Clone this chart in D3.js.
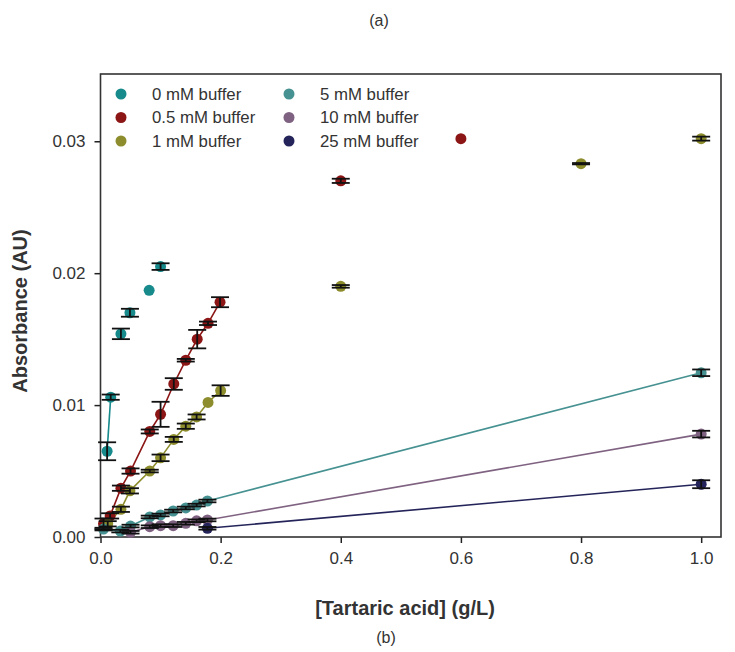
<!DOCTYPE html>
<html>
<head>
<meta charset="utf-8">
<script src="https://cdn.jsdelivr.net/npm/d3@7/dist/d3.min.js"></script>
<style>
  html, body { margin: 0; padding: 0; background: #fff; }
  svg { display: block; }
  text { font-family: "Liberation Sans", "DejaVu Sans", sans-serif; fill: #333; }
</style>
</head>
<body>
<svg id="chart" width="735" height="652"></svg>
<script>
// Buffer series: tartaric acid concentration (g/L), absorbance (AU), error (AU)
const bufferNames = ["0 mM buffer", "0.5 mM buffer", "1 mM buffer", "5 mM buffer", "10 mM buffer", "25 mM buffer"];
const bufferColors = ["#178a8c", "#8c1616", "#8d8d2e", "#469191", "#7f6281", "#24245a"];

const conc0 = [0.011, 0.017, 0.034, 0.049, 0.081, 0.10];
const abs0  = [0.0065, 0.0106, 0.0154, 0.0170, 0.0187, 0.0205];
const err0  = [0.00068, 0.0002, 0.0004, 0.0003, 0, 0.00025];

const conc05 = [0.005, 0.016, 0.034, 0.050, 0.082, 0.100, 0.122, 0.142, 0.161, 0.179, 0.199, 0.40, 0.60];
const abs05  = [0.0010, 0.0016, 0.0037, 0.0050, 0.0080, 0.0093, 0.0116, 0.0134, 0.0150, 0.0162, 0.0178, 0.0270, 0.0302];
const err05  = [0.0004, 0.0002, 0.0002, 0.0002, 0.00015, 0.00095, 0.00044, 0.0001, 0.0007, 0.00013, 0.00038, 0.00016, 0];

const conc1 = [0.012, 0.034, 0.049, 0.082, 0.100, 0.122, 0.142, 0.160, 0.179, 0.200, 0.40, 0.80, 1.0];
const abs1  = [0.0010, 0.0021, 0.0035, 0.0050, 0.0060, 0.0074, 0.0084, 0.0091, 0.0102, 0.0111, 0.0190, 0.0283, 0.0302];
const err1  = [0.0002, 0.0002, 0.0002, 0.0001, 0.00025, 0.00019, 0.0002, 0.00019, 0, 0.0004, 0.0001, 0.00005, 0.00015];

const conc5 = [0.005, 0.033, 0.050, 0.082, 0.100, 0.121, 0.142, 0.160, 0.178, 1.0];
const abs5  = [0.0006, 0.00045, 0.00083, 0.00152, 0.00167, 0.00197, 0.0022, 0.00242, 0.00273, 0.01245];
const err5  = [0.0001, 0.0001, 0.0001, 0.0001, 0.0001, 0.0001, 0.0001, 0.0001, 0.0001, 0.00025];

const conc10 = [0.050, 0.082, 0.100, 0.121, 0.142, 0.160, 0.178, 1.0];
const abs10  = [0.00036, 0.00078, 0.00086, 0.00086, 0.00104, 0.00123, 0.00129, 0.0078];
const err10  = [0.0001, 0.0001, 0.0001, 0.0001, 0.0001, 0.0001, 0.0001, 0.00025];

const conc25 = [0.178, 1.0];
const abs25  = [0.00066, 0.0040];
const err25  = [0.0001, 0.0003];

// how many leading points of each series are joined by a line
const linkedCounts = [2, 11, 10, 10, 8, 2];

const xTicks = [0.0, 0.2, 0.4, 0.6, 0.8, 1.0];
const yTicks = [0.00, 0.01, 0.02, 0.03];

const seriesConc = [conc0, conc05, conc1, conc5, conc10, conc25];
const seriesAbs = [abs0, abs05, abs1, abs5, abs10, abs25];
const seriesErr = [err0, err05, err1, err5, err10, err25];

const series = bufferNames.map((name, i) => ({
  name,
  color: bufferColors[i],
  linked: linkedCounts[i],
  points: seriesConc[i].map((c, j) => ({ x: c, y: seriesAbs[i][j], e: seriesErr[i][j] }))
}));

const svg = d3.select("#chart");
const plotLeft = 100.5, plotRight = 721, plotTop = 74, plotBottom = 537;

const x = d3.scaleLinear().domain([0, 1.033]).range([plotLeft, plotRight]);
const y = d3.scaleLinear().domain([0, 0.0351]).range([plotBottom, plotTop]);

// axes
const xAxis = svg.append("g").attr("transform", `translate(0,${plotBottom})`)
  .call(d3.axisBottom(x).tickValues(xTicks).tickFormat(d3.format(".1f")).tickSize(6).tickPadding(9));
const yAxis = svg.append("g").attr("transform", `translate(${plotLeft},0)`)
  .call(d3.axisLeft(y).tickValues(yTicks).tickFormat(d3.format(".2f")).tickSize(6).tickPadding(9));
[xAxis, yAxis].forEach(g => {
  g.select(".domain").remove();
  g.selectAll(".tick line").attr("stroke", "#222").attr("stroke-width", 1.5);
  g.selectAll(".tick text").attr("font-size", 17).attr("fill", "#333");
});

// frame
svg.append("rect")
  .attr("x", plotLeft).attr("y", plotTop)
  .attr("width", plotRight - plotLeft).attr("height", plotBottom - plotTop)
  .attr("fill", "none").attr("stroke", "#333").attr("stroke-width", 1.6);

const plot = svg.append("g");

// connecting lines over the linear range
const line = d3.line().x(d => x(d.x)).y(d => y(d.y));
series.forEach(s => {
  plot.append("path")
    .datum(s.points.slice(0, s.linked))
    .attr("d", line)
    .attr("fill", "none")
    .attr("stroke", s.color)
    .attr("stroke-width", 1.6);
});

// markers
series.forEach(s => {
  plot.selectAll(null).data(s.points).enter().append("circle")
    .attr("cx", d => x(d.x)).attr("cy", d => y(d.y))
    .attr("r", 5.5).attr("fill", s.color);
});

// error bars with caps
const capHalf = 9;
series.forEach(s => {
  const eb = plot.selectAll(null).data(s.points.filter(d => d.e > 0)).enter().append("g")
    .attr("stroke", "#111").attr("stroke-width", 1.8);
  eb.append("line")
    .attr("x1", d => x(d.x)).attr("x2", d => x(d.x))
    .attr("y1", d => y(d.y - d.e)).attr("y2", d => y(d.y + d.e));
  eb.append("line")
    .attr("x1", d => x(d.x) - capHalf).attr("x2", d => x(d.x) + capHalf)
    .attr("y1", d => y(d.y + d.e)).attr("y2", d => y(d.y + d.e));
  eb.append("line")
    .attr("x1", d => x(d.x) - capHalf).attr("x2", d => x(d.x) + capHalf)
    .attr("y1", d => y(d.y - d.e)).attr("y2", d => y(d.y - d.e));
});

// legend, two columns of three
const legend = svg.append("g");
series.forEach((s, i) => {
  const col = Math.floor(i / 3), row = i % 3;
  const gx = 121 + col * 168, gy = 94 + row * 23.5;
  legend.append("circle").attr("cx", gx).attr("cy", gy).attr("r", 5.5).attr("fill", s.color);
  legend.append("text").attr("x", gx + 31).attr("y", gy).attr("dy", "0.35em")
    .attr("font-size", 16.8).attr("fill", "#333").text(s.name);
});

// axis titles
svg.append("text")
  .attr("x", 405).attr("y", 615)
  .attr("text-anchor", "middle").attr("font-size", 20).attr("font-weight", "bold").attr("fill", "#222")
  .text("[Tartaric acid] (g/L)");
svg.append("text")
  .attr("transform", "translate(27,311) rotate(-90)")
  .attr("text-anchor", "middle").attr("font-size", 20).attr("font-weight", "bold").attr("fill", "#222")
  .text("Absorbance (AU)");

// panel labels
svg.append("text").attr("x", 379).attr("y", 26).attr("text-anchor", "middle")
  .attr("font-size", 16).attr("fill", "#333").text("(a)");
svg.append("text").attr("x", 386).attr("y", 643).attr("text-anchor", "middle")
  .attr("font-size", 16).attr("fill", "#333").text("(b)");
</script>
</body>
</html>
